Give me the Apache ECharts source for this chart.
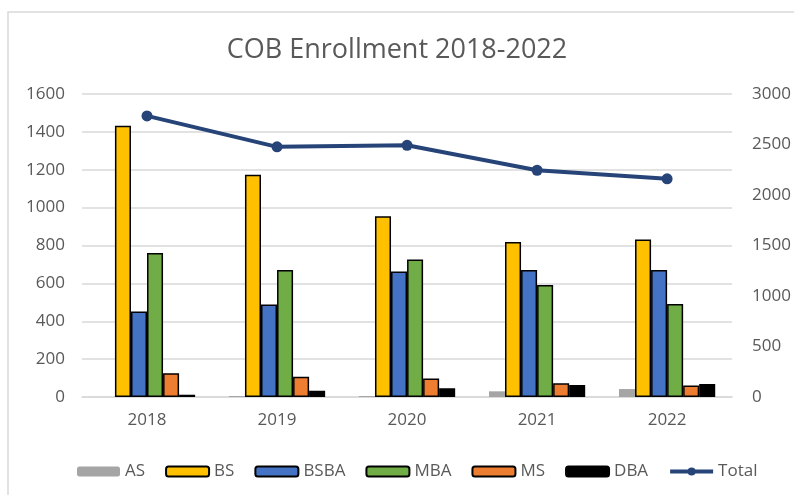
<!DOCTYPE html>
<html>
<head>
<meta charset="utf-8">
<script src="https://cdn.jsdelivr.net/npm/echarts@6/dist/echarts.min.js"></script>
<style>
  html, body { margin: 0; padding: 0; background: #fff; }
  #chart { width: 794px; height: 495px; }
</style>
</head>
<body>
<div id="chart"></div>
<script>
const years = ['2018', '2019', '2020', '2021', '2022'];
const asValues = [0, 5, 5, 30, 42];
const bsValues = [1433, 1173, 954, 819, 832];
const bsbaValues = [452, 489, 663, 670, 670];
const mbaValues = [760, 670, 726, 591, 491];
const msValues = [126, 107, 98, 72, 61];
const dbaValues = [12, 33, 46, 63, 68];
const totalValues = [2783, 2477, 2492, 2245, 2160];

const textColor = '#595959';
const fontFamily = '"Open Sans", sans-serif';
const plain = v => String(v);

function barSeries(name, data, color, border) {
    return {
        name: name,
        type: 'bar',
        data: data,
        barGap: '0%',
        barCategoryGap: '26%',
        itemStyle: {
            color: color,
            borderColor: border ? '#000' : color,
            borderWidth: border ? 1.5 : 0
        }
    };
}

const chart = echarts.init(document.getElementById('chart'));

chart.setOption({
    animation: false,
    textStyle: { fontFamily: fontFamily },
    graphic: [{
        type: 'rect',
        shape: { x: 8, y: 12, width: 800, height: 500 },
        style: { fill: 'none', stroke: '#d9d9d9', lineWidth: 1.5 },
        silent: true
    }],
    title: {
        text: 'COB Enrollment 2018-2022',
        left: 'center',
        top: 32,
        textStyle: { color: textColor, fontSize: 27, fontWeight: 'normal', fontFamily: fontFamily }
    },
    legend: {
        left: 72,
        top: 458,
        itemWidth: 43,
        itemHeight: 10,
        itemGap: 20,
        textStyle: { color: textColor, fontSize: 17, fontFamily: fontFamily },
        data: ['AS', 'BS', 'BSBA', 'MBA', 'MS', 'DBA', {
            name: 'Total',
            lineStyle: { width: 4 }
        }]
    },
    grid: { left: 82, right: 61, top: 94, bottom: 98 },
    xAxis: {
        type: 'category',
        data: years,
        axisTick: { show: false },
        axisLine: { lineStyle: { color: '#d9d9d9', width: 1.5 } },
        axisLabel: { color: textColor, fontSize: 17, margin: 15 }
    },
    yAxis: [
        {
            type: 'value',
            min: 0,
            max: 1600,
            interval: 200,
            axisLabel: { color: textColor, fontSize: 17, margin: 17, formatter: plain },
            axisLine: { show: false },
            splitLine: { lineStyle: { color: '#d9d9d9', width: 1.5 } }
        },
        {
            type: 'value',
            min: 0,
            max: 3000,
            interval: 500,
            axisLabel: { color: textColor, fontSize: 17, margin: 20, formatter: plain },
            axisLine: { show: false },
            splitLine: { show: false }
        }
    ],
    series: [
        barSeries('AS', asValues, '#a5a5a5', false),
        barSeries('BS', bsValues, '#ffc000', true),
        barSeries('BSBA', bsbaValues, '#4472c4', true),
        barSeries('MBA', mbaValues, '#70ad47', true),
        barSeries('MS', msValues, '#ed7d31', true),
        barSeries('DBA', dbaValues, '#000000', true),
        {
            name: 'Total',
            type: 'line',
            yAxisIndex: 1,
            data: totalValues,
            symbol: 'circle',
            symbolSize: 11,
            lineStyle: { color: '#264478', width: 4 },
            itemStyle: { color: '#264478' }
        }
    ]
});

window.addEventListener('resize', () => chart.resize());
</script>
</body>
</html>
